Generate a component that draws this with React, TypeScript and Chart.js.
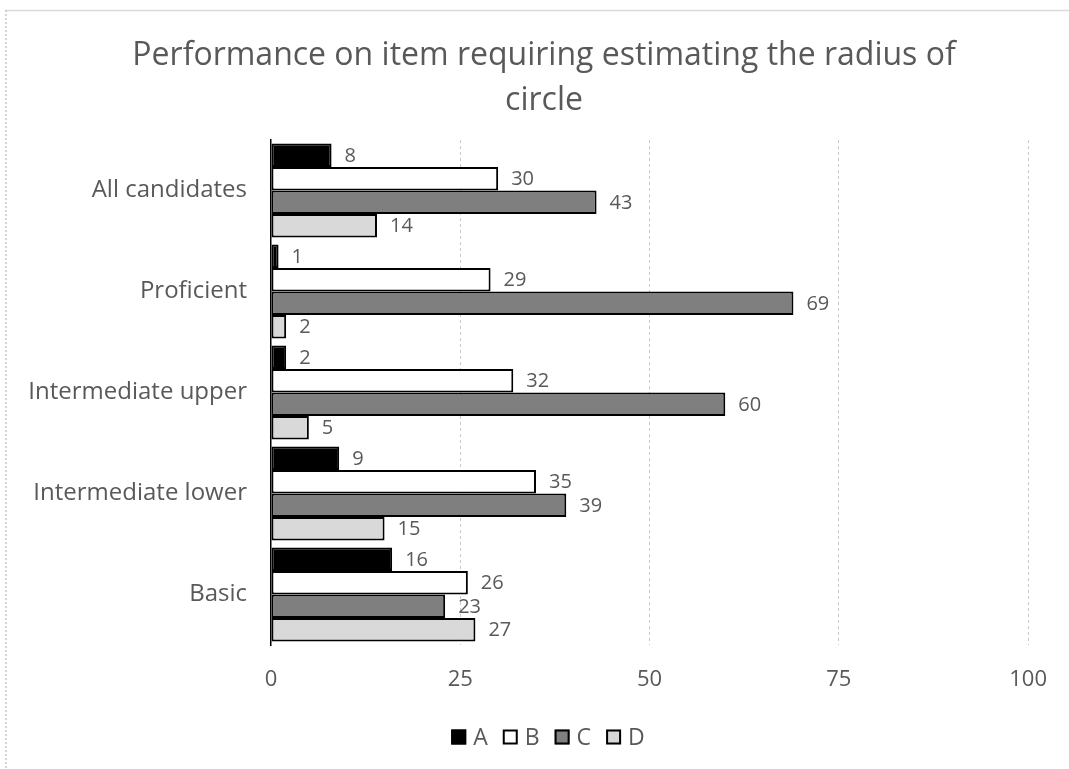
import React, { useEffect, useRef } from "react";
import { Chart, registerables } from "chart.js";

Chart.register(...registerables);

const categories = [
  "All candidates",
  "Proficient",
  "Intermediate upper",
  "Intermediate lower",
  "Basic",
];
const seriesNames = ["A", "B", "C", "D"];
const valuesA = [8, 1, 2, 9, 16];
const valuesB = [30, 29, 32, 35, 26];
const valuesC = [43, 69, 60, 39, 23];
const valuesD = [14, 2, 5, 15, 27];
const xTicks = [0, 25, 50, 75, 100];
const titleLines = [
  "Performance on item requiring estimating the radius of",
  "circle",
];

const FONT = "'Open Sans', 'DejaVu Sans', sans-serif";
const TEXT = "#595959";

const fills = ["#000000", "#ffffff", "#7f7f7f", "#d9d9d9"];

const framePlugin = {
  id: "frame",
  beforeDraw(chart: any) {
    const ctx = chart.ctx;
    ctx.save();
    ctx.fillStyle = "#ffffff";
    ctx.fillRect(0, 0, chart.width, chart.height);
    ctx.strokeStyle = "#d9d9d9";
    ctx.lineWidth = 1.5;
    ctx.beginPath();
    ctx.moveTo(5, 10.5);
    ctx.lineTo(chart.width, 10.5);
    ctx.stroke();
    ctx.setLineDash([2, 2]);
    ctx.strokeStyle = "#c8c8c8";
    ctx.beginPath();
    ctx.moveTo(6, 10);
    ctx.lineTo(6, chart.height);
    ctx.stroke();
    ctx.restore();
  },
};

const titlePlugin = {
  id: "customTitle",
  afterDraw(chart: any) {
    const ctx = chart.ctx;
    ctx.save();
    ctx.fillStyle = TEXT;
    ctx.font = `32px ${FONT}`;
    ctx.textAlign = "center";
    ctx.textBaseline = "middle";
    ctx.fillText(titleLines[0], 544, 56);
    ctx.fillText(titleLines[1], 544, 101);
    ctx.restore();
  },
};

const valueLabelPlugin = {
  id: "valueLabels",
  afterDatasetsDraw(chart: any) {
    const ctx = chart.ctx;
    ctx.save();
    ctx.fillStyle = TEXT;
    ctx.font = `20px ${FONT}`;
    ctx.textAlign = "left";
    ctx.textBaseline = "middle";
    chart.data.datasets.forEach((ds: any, di: number) => {
      const meta = chart.getDatasetMeta(di);
      meta.data.forEach((bar: any, i: number) => {
        ctx.fillText(String(ds.data[i]), bar.x + 13, bar.y + 1);
      });
    });
    ctx.restore();
  },
};

const legendPlugin = {
  id: "customLegend",
  afterDraw(chart: any) {
    const ctx = chart.ctx;
    ctx.save();
    ctx.font = `23px ${FONT}`;
    ctx.textBaseline = "middle";
    ctx.textAlign = "left";
    const box = 15;
    const gap = 7;
    const itemGap = 15;
    const y = 737;
    const widths = seriesNames.map((n) => box + gap + ctx.measureText(n).width);
    const total = widths.reduce((a, b) => a + b, 0) + itemGap * (seriesNames.length - 1);
    let x = 548 - total / 2;
    seriesNames.forEach((n, i) => {
      ctx.fillStyle = fills[i];
      ctx.fillRect(x, y - box / 2, box, box);
      ctx.strokeStyle = "#000";
      ctx.lineWidth = 2;
      ctx.strokeRect(x + 1, y - box / 2 + 1, box - 2, box - 2);
      ctx.fillStyle = TEXT;
      ctx.fillText(n, x + box + gap, y + 1);
      x += widths[i] + itemGap;
    });
    ctx.restore();
  },
};

export default function App() {
  const ref = useRef<HTMLCanvasElement | null>(null);
  useEffect(() => {
    if (!ref.current) return;
    const allValues = [valuesA, valuesB, valuesC, valuesD];
    const chart = new Chart(ref.current, {
      type: "bar",
      data: {
        labels: categories,
        datasets: seriesNames.map((name, i) => ({
          label: name,
          data: allValues[i],
          backgroundColor: fills[i],
          borderColor: "#000000",
          borderWidth: 2,
          borderSkipped: false,
          categoryPercentage: 0.93,
          barPercentage: 1,
        })),
      },
      options: {
        indexAxis: "y",
        responsive: false,
        animation: false,
        layout: { padding: { top: 140, left: 0, right: 38, bottom: 0 } },
        plugins: {
          legend: { display: false },
          title: { display: false },
          tooltip: { enabled: false },
        },
        scales: {
          x: {
            min: 0,
            max: 100,
            afterBuildTicks(scale: any) {
              scale.ticks = xTicks.map((v) => ({ value: v }));
            },
            afterFit(scale: any) {
              scale.height = 124;
            },
            border: { display: false, dash: [3, 3] },
            grid: {
              drawTicks: false,
              color: (c: any) => (c.tick && c.tick.value === 0 ? "rgba(0,0,0,0)" : "#c8c8c8"),
              lineWidth: 1,
            },
            ticks: {
              color: TEXT,
              font: { family: FONT, size: 22 },
              padding: 22,
            },
          },
          y: {
            afterFit(scale: any) {
              scale.width = 271;
            },
            border: { display: true, color: "#000000", width: 1.5 },
            grid: { display: false, drawTicks: false },
            ticks: {
              color: TEXT,
              font: { family: FONT, size: 24 },
              padding: 24,
            },
          },
        },
      },
      plugins: [framePlugin, valueLabelPlugin, titlePlugin, legendPlugin],
    });
    return () => chart.destroy();
  }, []);
  return (
    <div style={{ position: "absolute", left: 0, top: 0, width: 1069, height: 769 }}>
      <canvas ref={ref} width={1069} height={769} style={{ display: "block" }} />
    </div>
  );
}
